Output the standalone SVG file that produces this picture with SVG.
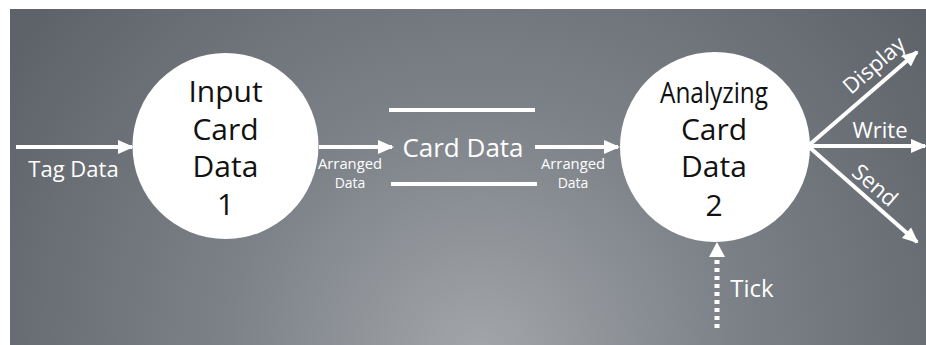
<svg xmlns="http://www.w3.org/2000/svg" width="926" height="345" viewBox="0 0 926 345">
<style>
.bub{fill:#fff}
.ntext{font-family:"Open Sans","Noto Sans",sans-serif;font-size:30px;fill:#111;text-anchor:middle}
.lbl{font-family:"Open Sans","Noto Sans",sans-serif;fill:#fff;text-anchor:middle}
.ln{stroke:#fff;stroke-width:4;fill:none}
</style>
<defs>
<radialGradient id="bg" cx="480" cy="360" r="560" gradientUnits="userSpaceOnUse">
<stop offset="0" stop-color="#a3a6aa"/>
<stop offset="0.45" stop-color="#7d8288"/>
<stop offset="1" stop-color="#5e636a"/>
</radialGradient>
<marker id="ah" markerUnits="userSpaceOnUse" markerWidth="16" markerHeight="16" viewBox="0 0 16 16" refX="14" refY="8" orient="auto">
<path d="M0,1 L16,8 L0,15 Z" fill="#fff"/>
</marker>
</defs>
<rect x="0" y="0" width="926" height="345" fill="#fff"/>
<rect x="10" y="9" width="916" height="336" fill="url(#bg)"/>
<g id="connectors">
<line class="ln" x1="16" y1="147" x2="132" y2="147" marker-end="url(#ah)"/>
<line class="ln" x1="319" y1="147" x2="392" y2="147" marker-end="url(#ah)"/>
<line class="ln" x1="535" y1="147" x2="618" y2="147" marker-end="url(#ah)"/>
<line class="ln" x1="808" y1="146" x2="917" y2="52" marker-end="url(#ah)"/>
<line class="ln" x1="808" y1="146" x2="925" y2="146" marker-end="url(#ah)"/>
<line class="ln" x1="808" y1="146" x2="917" y2="242" marker-end="url(#ah)"/>
<line x1="717" y1="328" x2="717" y2="258" stroke="#fff" stroke-width="5" stroke-dasharray="4 4"/>
<path d="M709,257 L717,242 L725,257 Z" fill="#fff"/>
<text class="lbl" x="73.5" y="177" font-size="22">Tag Data</text>
<text class="lbl" x="350" y="169" font-size="14" textLength="64" lengthAdjust="spacingAndGlyphs">Arranged</text>
<text class="lbl" x="350" y="188" font-size="14">Data</text>
<text class="lbl" x="573" y="169" font-size="14" textLength="64" lengthAdjust="spacingAndGlyphs">Arranged</text>
<text class="lbl" x="573" y="188" font-size="14">Data</text>
<text class="lbl" font-size="22" transform="translate(879,71) rotate(-41)">Display</text>
<text class="lbl" x="880" y="138" font-size="22">Write</text>
<text class="lbl" font-size="22" transform="translate(870,191) rotate(41)">Send</text>
<text class="lbl" x="752" y="297" font-size="24">Tick</text>
</g>
<g id="store-card-data">
<line class="ln" x1="389" y1="110" x2="535" y2="110"/>
<line class="ln" x1="391" y1="184" x2="537" y2="184"/>
<text class="lbl" x="463" y="157" font-size="26">Card Data</text>
</g>
<g id="process-1">
<circle class="bub" cx="225.5" cy="146" r="93"/>
<text class="ntext" x="225.5" y="102">Input</text>
<text class="ntext" x="225.5" y="140">Card</text>
<text class="ntext" x="225.5" y="177">Data</text>
<text class="ntext" x="225.5" y="215">1</text>
</g>
<g id="process-2">
<circle class="bub" cx="715" cy="147" r="95"/>
<text class="ntext" x="714" y="103" textLength="108" lengthAdjust="spacingAndGlyphs">Analyzing</text>
<text class="ntext" x="714" y="140">Card</text>
<text class="ntext" x="714" y="177">Data</text>
<text class="ntext" x="714" y="216">2</text>
</g>
</svg>
